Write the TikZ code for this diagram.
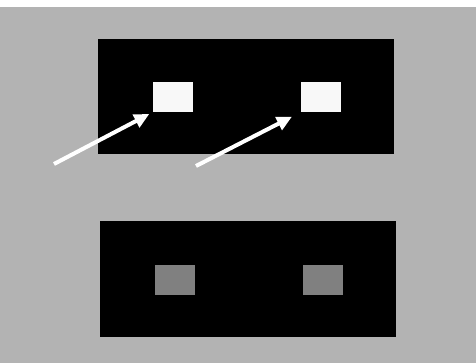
\documentclass[tikz,border=0pt]{standalone}
\usepackage{tikz}
\usetikzlibrary{arrows.meta}

\definecolor{bggray}{RGB}{179,179,179}
\definecolor{litsq}{RGB}{248,248,248}
\definecolor{dimsq}{RGB}{128,128,128}

\begin{document}
\begin{tikzpicture}[x=1pt,y=-1pt,
  panel/.style={fill=black,inner sep=0pt,minimum width=296pt,minimum height=115pt},
  patch/.style={inner sep=0pt,minimum width=40pt,minimum height=30pt},
  pointer/.style={-{Triangle[length=15pt,width=14pt]},white,line width=4pt}
]
  \useasboundingbox (0,0) rectangle (476,363);
  \fill[bggray] (0,7) rectangle (476,363);

  \node[panel] (upper) at (246,96.5) {};
  \node[panel] (lower) at (247.5,279) {};

  \node[patch,fill=litsq] (lit1) at (173,97) {};
  \node[patch,fill=litsq] (lit2) at (321,97) {};
  \node[patch,fill=dimsq] (dim1) at (175,279.5) {};
  \node[patch,fill=dimsq] (dim2) at (323,279.5) {};

  \coordinate (tail1) at (54,164);
  \coordinate (tail2) at (196,166);

  \path[pointer]
    (tail1) edge[shorten >=4pt] (lit1.south west)
    (tail2) edge[shorten >=10pt] (lit2.south west);
\end{tikzpicture}
\end{document}
